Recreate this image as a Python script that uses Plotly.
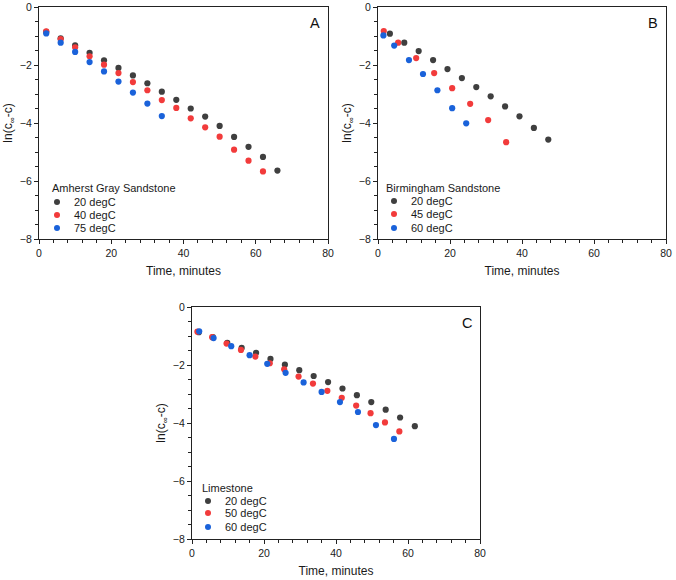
import plotly.graph_objects as go

# ---------------- data ----------------
# Panel A: Amherst Gray Sandstone
a_t20 = [2, 6, 10, 14, 18, 22, 26, 30, 34, 38, 42, 46, 50, 54, 58, 62, 66]
a_y20 = [-0.86, -1.08, -1.32, -1.58, -1.84, -2.10, -2.36, -2.63, -2.92, -3.20, -3.50, -3.78, -4.10, -4.48, -4.82, -5.17, -5.64]
a_t40 = [2, 6, 10, 14, 18, 22, 26, 30, 34, 38, 42, 46, 50, 54, 58, 62]
a_y40 = [-0.84, -1.11, -1.39, -1.70, -1.99, -2.28, -2.59, -2.87, -3.21, -3.48, -3.84, -4.15, -4.47, -4.92, -5.30, -5.67]
a_t75 = [2, 6, 10, 14, 18, 22, 26, 30, 34]
a_y75 = [-0.91, -1.23, -1.55, -1.90, -2.22, -2.57, -2.95, -3.33, -3.76]

# Panel B: Birmingham Sandstone
b_t20 = [3.3, 7.3, 11.3, 15.3, 19.3, 23.3, 27.3, 31.3, 35.3, 39.3, 43.3, 47.3]
b_y20 = [-0.92, -1.23, -1.52, -1.83, -2.14, -2.45, -2.76, -3.08, -3.43, -3.77, -4.17, -4.57]
b_t45 = [1.6, 5.6, 10.6, 15.6, 20.6, 25.6, 30.6, 35.6]
b_y45 = [-0.83, -1.23, -1.76, -2.28, -2.80, -3.34, -3.90, -4.66]
b_t60 = [1.5, 4.5, 8.6, 12.5, 16.5, 20.6, 24.5]
b_y60 = [-0.98, -1.33, -1.83, -2.31, -2.87, -3.49, -4.01]

# Panel C: Limestone
c_t20 = [1.9, 5.8, 9.8, 13.8, 17.8, 21.8, 25.8, 29.8, 33.8, 37.8, 41.8, 45.8, 49.8, 53.8, 57.8, 61.9]
c_y20 = [-0.87, -1.04, -1.24, -1.41, -1.58, -1.79, -1.99, -2.18, -2.38, -2.59, -2.81, -3.04, -3.28, -3.54, -3.81, -4.11]
c_t50 = [1.5, 5.6, 9.6, 13.6, 17.6, 21.6, 25.6, 29.6, 33.6, 37.6, 41.6, 45.6, 49.6, 53.6, 57.6]
c_y50 = [-0.85, -1.04, -1.26, -1.48, -1.71, -1.94, -2.15, -2.40, -2.64, -2.89, -3.13, -3.40, -3.66, -3.98, -4.29]
c_t60 = [2.0, 6.0, 10.9, 16.0, 20.9, 26.0, 31.0, 36.0, 41.1, 46.1, 51.1, 56.1]
c_y60 = [-0.84, -1.07, -1.35, -1.66, -1.96, -2.27, -2.60, -2.93, -3.28, -3.62, -4.07, -4.55]

legend_titles = ["Amherst Gray Sandstone", "Birmingham Sandstone", "Limestone"]
legend_labels = [["20 degC", "40 degC", "75 degC"],
                 ["20 degC", "45 degC", "60 degC"],
                 ["20 degC", "50 degC", "60 degC"]]
panel_letters = ["A", "B", "C"]

GRAY = "#3f3f3f"
RED = "#f23b3b"
BLUE = "#1a62da"
COLORS = [GRAY, RED, BLUE]
FONT = "Liberation Sans, Arial, sans-serif"
TXT = "#1a1a1a"

W, H = 676, 580

fig = go.Figure()

series = [
    [(a_t20, a_y20), (a_t40, a_y40), (a_t75, a_y75)],
    [(b_t20, b_y20), (b_t45, b_y45), (b_t60, b_y60)],
    [(c_t20, c_y20), (c_t50, c_y50), (c_t60, c_y60)],
]
axes = [("x", "y"), ("x2", "y2"), ("x3", "y3")]

for p, panel in enumerate(series):
    for s, (xs, ys) in enumerate(panel):
        fig.add_trace(go.Scatter(
            x=xs, y=ys, mode="markers",
            name=legend_titles[p] + " " + legend_labels[p][s],
            marker=dict(color=COLORS[s], size=6.2, line=dict(width=0)),
            xaxis=axes[p][0], yaxis=axes[p][1], showlegend=False,
        ))

def px_x(p):
    return p / W

def px_y(p):
    return 1 - p / H

def xax(dom, anchor):
    return dict(
        domain=dom, anchor=anchor, range=[0, 80], dtick=20, tick0=0,
        automargin=False, ticklabeloverflow="allow",
        showline=True, linecolor="#222", linewidth=1.3, mirror=True,
        ticks="outside", ticklen=4, tickwidth=1.2, tickcolor="#222",
        minor=dict(dtick=4, ticks="outside", ticklen=2.5, tickwidth=1, tickcolor="#222"),
        showgrid=False, zeroline=False,
        tickfont=dict(family=FONT, size=10.5, color=TXT),
        title=dict(text="Time, minutes", font=dict(family=FONT, size=12, color=TXT), standoff=8),
    )

def yax(dom, anchor):
    return dict(
        domain=dom, anchor=anchor, range=[-8, 0], dtick=2, tick0=0,
        automargin=False, ticklabeloverflow="allow",
        showline=True, linecolor="#222", linewidth=1.3, mirror=True,
        ticks="outside", ticklen=4, tickwidth=1.2, tickcolor="#222",
        minor=dict(dtick=0.5, ticks="outside", ticklen=2.5, tickwidth=1, tickcolor="#222"),
        showgrid=False, zeroline=False,
        tickfont=dict(family=FONT, size=10.5, color=TXT),
        title=dict(text="ln(c<sub>∞</sub>-c)", font=dict(family=FONT, size=12, color=TXT), standoff=4),
    )

ydomAB = [px_y(239), px_y(7)]
ydomC = [px_y(539), px_y(307)]

# legend layout (pixel positions): title left/centre-y, dot x, text x, row ys
legend_pos = [
    dict(tx=50, ty=188, dx=57, lx=72, rows=[202, 215, 228]),
    dict(tx=384, ty=188, dx=394, lx=409, rows=[201, 214, 228]),
    dict(tx=200, ty=488, dx=208, lx=223, rows=[501, 513, 527]),
]

annotations = []
shapes = []
R = 3.0
for p, lp in enumerate(legend_pos):
    annotations.append(dict(
        text=legend_titles[p], x=px_x(lp["tx"]), y=px_y(lp["ty"]), xref="paper", yref="paper",
        xanchor="left", yanchor="middle", showarrow=False,
        font=dict(family=FONT, size=11, color=TXT)))
    for s, ry in enumerate(lp["rows"]):
        annotations.append(dict(
            text=legend_labels[p][s], x=px_x(lp["lx"]), y=px_y(ry), xref="paper", yref="paper",
            xanchor="left", yanchor="middle", showarrow=False,
            font=dict(family=FONT, size=11, color=TXT)))
        shapes.append(dict(
            type="circle", xref="paper", yref="paper",
            x0=px_x(lp["dx"] - R), x1=px_x(lp["dx"] + R),
            y0=px_y(ry + R), y1=px_y(ry - R),
            fillcolor=COLORS[s], line=dict(width=0)))

for p in range(3):
    xa = "x" if p == 0 else "x%d" % (p + 1)
    ya = "y" if p == 0 else "y%d" % (p + 1)
    annotations.append(dict(
        text=panel_letters[p], x=0.955, y=0.93, xref=xa + " domain", yref=ya + " domain",
        xanchor="center", yanchor="middle",
        showarrow=False, font=dict(family=FONT, size=14.5, color="#111")))

fig.update_layout(
    template="none",
    width=W, height=H,
    margin=dict(l=0, r=0, t=0, b=0),
    paper_bgcolor="white", plot_bgcolor="white",
    font=dict(family=FONT, color=TXT),
    showlegend=False,
    xaxis=xax([px_x(39), px_x(328)], "y"),
    yaxis=yax(ydomAB, "x"),
    xaxis2=xax([px_x(378), px_x(666)], "y2"),
    yaxis2=yax(ydomAB, "x2"),
    xaxis3=xax([px_x(192), px_x(480)], "y3"),
    yaxis3=yax(ydomC, "x3"),
    annotations=annotations,
    shapes=shapes,
)

fig.write_html(
    "out.html",
    config={"displayModeBar": False},
    post_script="document.body.style.margin='0';document.body.style.overflow='hidden';",
)
